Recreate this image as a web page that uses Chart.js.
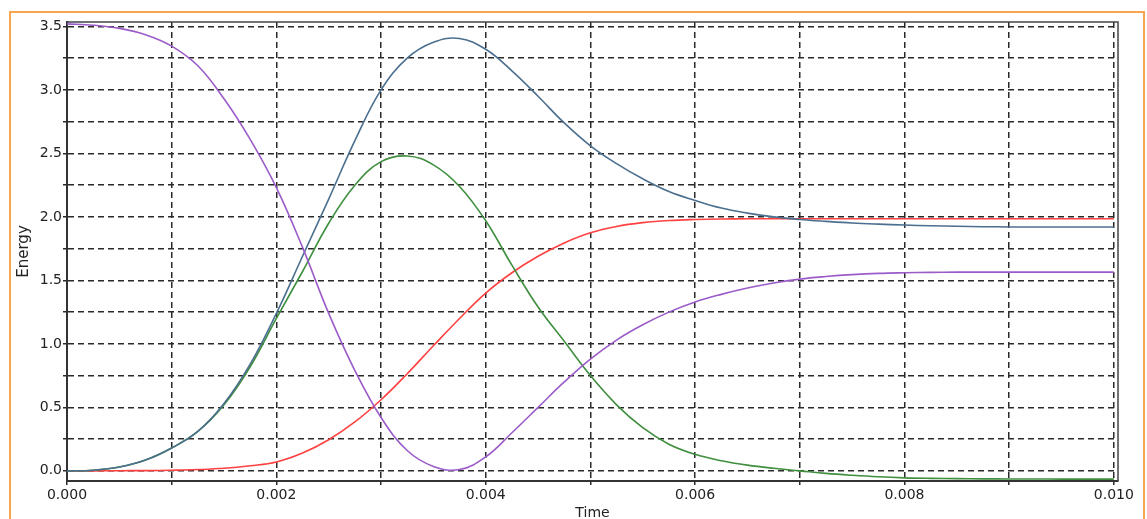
<!DOCTYPE html>
<html>
<head>
<meta charset="utf-8">
<script src="https://cdn.jsdelivr.net/npm/chart.js@4/dist/chart.umd.min.js"></script>
<style>
  html, body { margin: 0; padding: 0; background: #fff; }
  #wrap { position: relative; width: 1147px; height: 519px; overflow: hidden; }
  #frame { position: absolute; left: 9px; top: 11px; width: 1132px; height: 520px; border: 2px solid #f7a64f; }
  #c { position: absolute; left: 0; top: 0; }
</style>
</head>
<body>
<div id="wrap">
  <div id="frame"></div>
  <canvas id="c" width="1147" height="519"></canvas>
</div>
<script>
// time samples (s)
const times = [
  0, 0.00025, 0.0005, 0.00075, 0.001, 0.00125, 0.0015, 0.00175, 0.002, 0.00225,
  0.0025, 0.00275, 0.003, 0.00325, 0.0035, 0.00375, 0.004, 0.00425, 0.0045, 0.00475,
  0.005, 0.00525, 0.0055, 0.00575, 0.006, 0.00625, 0.0065, 0.00675, 0.007, 0.00725,
  0.0075, 0.00775, 0.008, 0.00825, 0.0085, 0.00875, 0.009, 0.00925, 0.0095, 0.00975, 0.01
];

// energy series
const purpleE = [
  3.52, 3.51, 3.485, 3.435, 3.345, 3.19, 2.93, 2.61, 2.23, 1.76,
  1.24, 0.79, 0.42, 0.16, 0.035, 0.01, 0.11, 0.30, 0.50, 0.70,
  0.88, 1.03, 1.15, 1.25, 1.33, 1.39, 1.44, 1.48, 1.51, 1.53,
  1.545, 1.555, 1.56, 1.563, 1.565, 1.565, 1.565, 1.565, 1.565, 1.565, 1.565
];
const blueE = [
  0, 0.005, 0.03, 0.085, 0.18, 0.31, 0.53, 0.84, 1.24, 1.69,
  2.14, 2.60, 3.00, 3.25, 3.375, 3.405, 3.32, 3.15, 2.95, 2.74,
  2.56, 2.42, 2.30, 2.20, 2.13, 2.07, 2.03, 2.00, 1.98, 1.965,
  1.952, 1.943, 1.936, 1.93, 1.926, 1.923, 1.921, 1.92, 1.92, 1.92, 1.92
];
const greenE = [
  0, 0.005, 0.03, 0.085, 0.18, 0.31, 0.52, 0.82, 1.20, 1.57,
  1.95, 2.25, 2.435, 2.48, 2.41, 2.24, 1.97, 1.62, 1.29, 1.02,
  0.75, 0.52, 0.34, 0.21, 0.13, 0.08, 0.045, 0.02, 0.0, -0.02,
  -0.035, -0.047, -0.055, -0.059, -0.061, -0.063, -0.064, -0.064, -0.065, -0.065, -0.065
];
const redE = [
  0, 0, 0.001, 0.002, 0.005, 0.01, 0.02, 0.04, 0.07, 0.14,
  0.245, 0.385, 0.56, 0.765, 0.985, 1.20, 1.40, 1.56, 1.69, 1.795,
  1.875, 1.925, 1.955, 1.972, 1.98, 1.984, 1.985, 1.985, 1.985, 1.985,
  1.985, 1.985, 1.985, 1.985, 1.985, 1.985, 1.985, 1.985, 1.985, 1.985, 1.985
];

const xTitle = "Time";
const yTitle = "Energy";

const toPts = (ys) => times.map((t, i) => ({ x: t, y: ys[i] }));

const mk = (data, color) => ({
  data: toPts(data),
  borderColor: color,
  borderWidth: 1.6,
  pointRadius: 0,
  fill: false,
  tension: 0.4
});

// top + right frame lines
const framePlugin = {
  id: "frame",
  afterDraw(chart) {
    const { ctx, chartArea: a } = chart;
    ctx.save();
    ctx.strokeStyle = "#444";
    ctx.lineWidth = 1.5;
    ctx.beginPath();
    ctx.moveTo(a.left, a.top);
    ctx.lineTo(a.right, a.top);
    ctx.lineTo(a.right, a.bottom);
    ctx.stroke();
    ctx.restore();
  }
};

const tickFont = { family: "DejaVu Sans", size: 14 };
const gridStyle = { color: "#2a2a2a", lineWidth: 1.5, tickLength: 4 };

new Chart(document.getElementById("c"), {
  type: "line",
  data: {
    datasets: [
      mk(purpleE, "#9b5cc9"),
      mk(blueE, "#4b6f8e"),
      mk(greenE, "#3f8f3f"),
      mk(redE, "#ff4040")
    ]
  },
  options: {
    responsive: false,
    animation: false,
    layout: { padding: { left: 0, top: 22, right: 29, bottom: 0 } },
    plugins: { legend: { display: false }, tooltip: { enabled: false } },
    scales: {
      x: {
        type: "linear",
        min: 0,
        max: 0.01004,
        afterFit: (s) => { s.height = 38; },
        grid: gridStyle,
        border: { color: "#333", width: 2, dash: [6, 4] },
        ticks: {
          stepSize: 0.001,
          includeBounds: false,
          autoSkip: false,
          maxRotation: 0,
          padding: 2,
          color: "#222",
          font: tickFont,
          callback: (v) => {
            const k = Math.round(v * 1000);
            return k % 2 === 0 ? (k / 1000).toFixed(3) : "";
          }
        },
        title: { display: true, text: xTitle, color: "#222", font: { family: "DejaVu Sans", size: 14 }, padding: { top: 0, bottom: -3 } }
      },
      y: {
        min: -0.08,
        max: 3.535,
        afterFit: (s) => { s.width = 67; },
        grid: gridStyle,
        border: { color: "#333", width: 2, dash: [6, 4] },
        ticks: {
          stepSize: 0.25,
          includeBounds: false,
          autoSkip: false,
          padding: 1,
          color: "#222",
          font: tickFont,
          callback: (v) => {
            const k = Math.round(v * 4);
            return k % 2 === 0 ? (k / 4).toFixed(1) : "";
          }
        },
        title: { display: true, text: yTitle, color: "#222", font: { family: "DejaVu Sans", size: 15 }, padding: { top: 15, bottom: 0 } }
      }
    }
  },
  plugins: [framePlugin]
});
</script>
</body>
</html>
